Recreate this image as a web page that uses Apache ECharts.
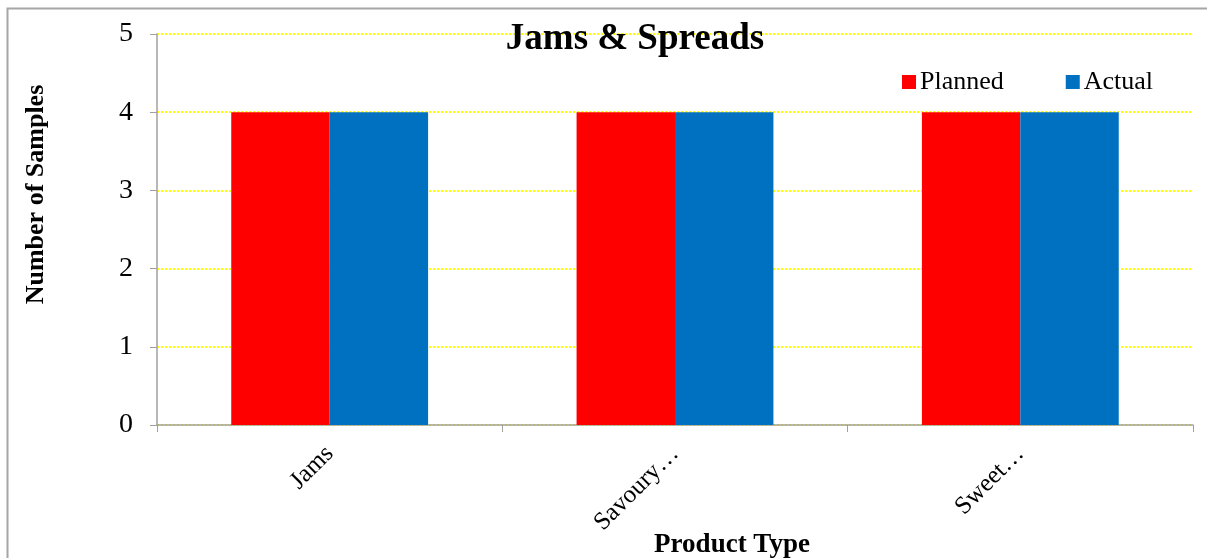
<!DOCTYPE html>
<html><head><meta charset="utf-8">
<script src="https://cdn.jsdelivr.net/npm/echarts@6/dist/echarts.min.js"></script>
<style>html,body{margin:0;padding:0;background:#fff}#c{width:1207px;height:558px}</style>
</head><body><div id="c"></div>
<script>
var categories = ['Jams', 'Savoury…', 'Sweet…'];
var planned = [4, 4, 4];
var actual = [4, 4, 4];
var yTicks = [0, 1, 2, 3, 4, 5];

var chart = echarts.init(document.getElementById('c'));
var ff = '"Liberation Serif", "Times New Roman", serif';
chart.setOption({
  animation: false,
  backgroundColor: '#fff',
  textStyle: { fontFamily: ff },
  graphic: [{ type: 'rect', shape: { x: 7.5, y: 8.5, width: 1250, height: 600 }, style: { fill: 'none', stroke: '#a6a6a6', lineWidth: 2 }, silent: true }],
  title: { text: 'Jams & Spreads', left: 630, textAlign: 'center', top: 16,
    textStyle: { fontFamily: ff, fontSize: 37, fontWeight: 'bold', color: '#000' } },
  legend: { left: 897, top: 64, itemWidth: 14, itemHeight: 14, itemGap: 62, icon: 'rect',
    textStyle: { fontFamily: ff, fontSize: 26, color: '#000', padding: [0, 0, 0, -1] },
    data: ['Planned', 'Actual'] },
  grid: { left: 157, right: 14, top: 34, bottom: 133, containLabel: false, outerBoundsMode: 'none' },
  xAxis: { type: 'category', data: categories,
    name: 'Product Type', nameLocation: 'middle', nameGap: 107, nameMoveOverlap: false,
    nameTextStyle: { fontFamily: ff, fontSize: 27, fontWeight: 'bold', color: '#000', padding: [0, 0, 0, 114] },
    axisLine: { lineStyle: { color: '#a0a0a0', width: 1.5 } },
    axisTick: { show: true, length: 7, alignWithLabel: false, lineStyle: { color: '#a0a0a0' } },
    axisLabel: { rotate: 45, margin: 25, fontFamily: ff, fontSize: 25, color: '#000' } },
  yAxis: { type: 'value', min: yTicks[0], max: yTicks[yTicks.length - 1], interval: 1,
    name: 'Number of Samples', nameLocation: 'middle', nameGap: 108, nameRotate: 90,
    nameTextStyle: { fontFamily: ff, fontSize: 26, fontWeight: 'bold', color: '#000', padding: [0, 0, 0, 70] },
    axisLine: { show: true, lineStyle: { color: '#a0a0a0', width: 1.5 } },
    axisTick: { show: true, length: 7, lineStyle: { color: '#a0a0a0' } },
    axisLabel: { margin: 24, fontFamily: ff, fontSize: 28, color: '#000' },
    splitLine: { show: true, lineStyle: { color: '#ffff00', type: 'dotted', width: 2 } } },
  series: [
    { name: 'Planned', type: 'bar', data: planned, barGap: '0%', barCategoryGap: '43%', itemStyle: { color: '#ff0000' } },
    { name: 'Actual', type: 'bar', data: actual, itemStyle: { color: '#0070c0' } }
  ]
});
</script></body></html>
